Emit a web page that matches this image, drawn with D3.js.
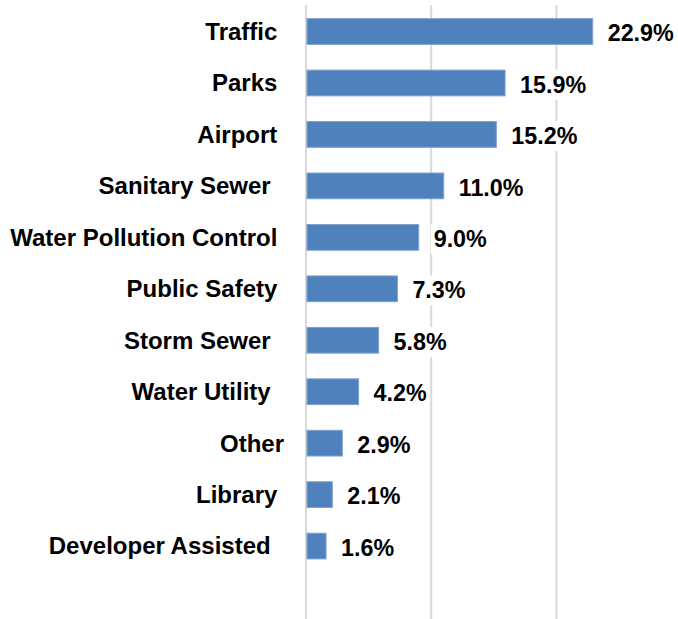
<!DOCTYPE html>
<html>
<head>
<meta charset="utf-8">
<script src="https://cdn.jsdelivr.net/npm/d3@7"></script>
<style>
  html, body { margin: 0; padding: 0; background: #fff; }
  svg text { white-space: pre; font-family: Arial, "Liberation Sans", sans-serif; font-weight: bold; fill: #000; }
</style>
</head>
<body>
<svg id="chart" width="678" height="619"></svg>
<script>
const categories = ["Traffic ", "Parks ", "Airport ", "Sanitary Sewer  ", "Water Pollution Control ",
  "Public Safety ", "Storm Sewer  ", "Water Utility  ", "Other", "Library ", "Developer Assisted  "];
const values = [22.9, 15.9, 15.2, 11.0, 9.0, 7.3, 5.8, 4.2, 2.9, 2.1, 1.6];
const gridTicks = [0, 10, 20];

const svg = d3.select("#chart");
const x = d3.scaleLinear().domain([0, 30]).range([306, 681.6]);
const y = d3.scaleBand().domain(categories).range([5.8, 571.8]).paddingInner(0.5).paddingOuter(0.25);

// gridlines
svg.append("g").selectAll("line").data(gridTicks).join("line")
  .attr("x1", d => x(d)).attr("x2", d => x(d))
  .attr("y1", 5).attr("y2", 619)
  .attr("stroke", "#d9d9d9").attr("stroke-width", 2);

// bars
svg.append("g").selectAll("rect").data(values).join("rect")
  .attr("x", x(0) + 1)
  .attr("y", (d, i) => y(categories[i]))
  .attr("width", d => x(d) - x(0) - 1)
  .attr("height", y.bandwidth())
  .attr("fill", "#4f81bd")
  .attr("stroke", "#7da1cf").attr("stroke-width", 1);

// value labels with white background boxes
const vg = svg.append("g");
values.forEach((v, i) => {
  const g = vg.append("g");
  const bg = g.append("rect").attr("fill", "#fff");
  const t = g.append("text")
    .attr("x", x(v) + 15)
    .attr("y", y(categories[i]) + y.bandwidth() / 2 + 1.5)
    .attr("dy", "0.35em")
    .attr("font-size", 23.3)
    .text(v.toFixed(1) + "%");
  const b = t.node().getBBox();
  bg.attr("x", b.x - 3).attr("y", b.y - 2).attr("width", b.width + 6).attr("height", b.height + 4);
});

// category labels
svg.append("g").selectAll("text").data(categories).join("text")
  .attr("x", 284)
  .attr("y", d => y(d) + y.bandwidth() / 2)
  .attr("dy", "0.35em")
  .attr("text-anchor", "end")
  .attr("font-size", 24)
  .text(d => d);
</script>
</body>
</html>
